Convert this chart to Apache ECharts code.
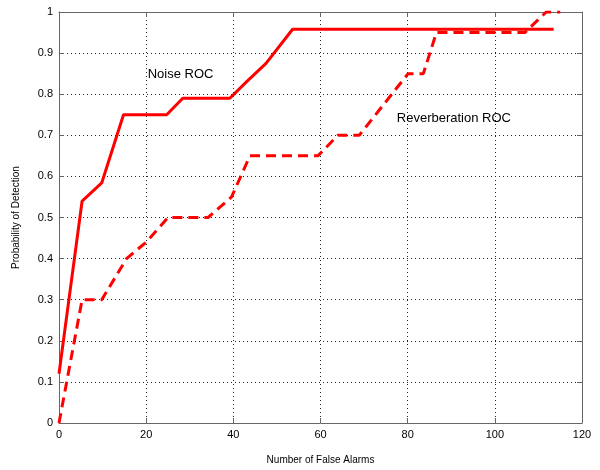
<!DOCTYPE html>
<html>
<head>
<meta charset="utf-8">
<script src="https://cdn.jsdelivr.net/npm/echarts@6/dist/echarts.min.js"></script>
<style>
  html, body { margin: 0; padding: 0; background: #fff; }
  #main { width: 600px; height: 470px; }
</style>
</head>
<body>
<div id="main"></div>
<script>
// values
var noiseX = [0, 5.3, 9.8, 14.8, 24.7, 28.4, 39.2, 43, 47.5, 53.6, 113.5];
var noiseY = [0.12, 0.54, 0.584, 0.75, 0.75, 0.79, 0.79, 0.83, 0.875, 0.958, 0.958];

var reverbX = [0, 5.3, 9.8, 15.5, 20, 25, 34.2, 39.6, 43.8, 59.4, 64, 68.9, 80.1, 83.6, 86.6, 106.9, 111.8, 115];
var reverbY = [0, 0.3, 0.3, 0.4, 0.44, 0.5, 0.5, 0.55, 0.65, 0.65, 0.7, 0.7, 0.85, 0.85, 0.95, 0.95, 1.0, 1.0];

var noiseLabel = {name: 'Noise ROC', coord: [27.9, 0.849]};
var reverbLabel = {name: 'Reverberation ROC', coord: [90.6, 0.74]};

var xTitle = 'Number of False Alarms';
var yTitle = 'Probability of Detection';

function pairs(xs, ys){
    return xs.map(function(x, i){ return [x, ys[i]]; });
}

var font = '"Liberation Sans", Arial, sans-serif';
var frameColor = '#666';
var gridLine = { show: true, lineStyle: { color: '#222', width: 1, type: [1, 3] } };

function textMark(lbl){
    return {
        symbol: 'circle',
        symbolSize: 0,
        label: {
            show: true,
            position: 'inside',
            formatter: '{b}',
            color: '#000',
            fontSize: 13,
            fontFamily: font
        },
        data: [{ name: lbl.name, coord: lbl.coord }]
    };
}

var chartDom = document.getElementById('main');
var myChart = echarts.init(chartDom);

var option = {
    backgroundColor: '#fff',
    animation: false,
    grid: { left: 59, right: 18, top: 12, bottom: 47 },
    xAxis: [
        {
            type: 'value',
            min: 0, max: 120, interval: 20,
            name: xTitle,
            nameLocation: 'middle',
            nameGap: 32,
            nameTextStyle: { color: '#000', fontSize: 10, fontFamily: font },
            axisLine: { show: true, onZero: false, lineStyle: { color: frameColor } },
            axisTick: { show: true, inside: true, length: 5, lineStyle: { color: frameColor } },
            axisLabel: { color: '#000', fontSize: 11, fontFamily: font, margin: 6 },
            splitLine: gridLine
        },
        {
            type: 'value', position: 'top',
            min: 0, max: 120, interval: 20,
            axisLine: { show: true, onZero: false, lineStyle: { color: frameColor } },
            axisTick: { show: true, inside: true, length: 5, lineStyle: { color: frameColor } },
            axisLabel: { show: false },
            splitLine: { show: false }
        }
    ],
    yAxis: [
        {
            type: 'value',
            min: 0, max: 1, interval: 0.1,
            name: yTitle,
            nameLocation: 'middle',
            nameGap: 38,
            nameTextStyle: { color: '#000', fontSize: 10, fontFamily: font },
            axisLine: { show: true, onZero: false, lineStyle: { color: frameColor } },
            axisTick: { show: true, inside: true, length: 5, lineStyle: { color: frameColor } },
            axisLabel: { color: '#000', fontSize: 11, fontFamily: font, margin: 6 },
            splitLine: gridLine
        },
        {
            type: 'value', position: 'right',
            min: 0, max: 1, interval: 0.1,
            axisLine: { show: true, onZero: false, lineStyle: { color: frameColor } },
            axisTick: { show: true, inside: true, length: 5, lineStyle: { color: frameColor } },
            axisLabel: { show: false },
            splitLine: { show: false }
        }
    ],
    series: [
        {
            name: 'Noise ROC',
            type: 'line',
            data: pairs(noiseX, noiseY),
            showSymbol: false,
            symbol: 'none',
            lineStyle: { color: '#ff0000', width: 3 },
            markPoint: textMark(noiseLabel)
        },
        {
            name: 'Reverberation ROC',
            type: 'line',
            data: pairs(reverbX, reverbY),
            showSymbol: false,
            symbol: 'none',
            lineStyle: { color: '#ff0000', width: 3, type: [10, 6] },
            markPoint: textMark(reverbLabel)
        }
    ]
};

option && myChart.setOption(option);
</script>
</body>
</html>
